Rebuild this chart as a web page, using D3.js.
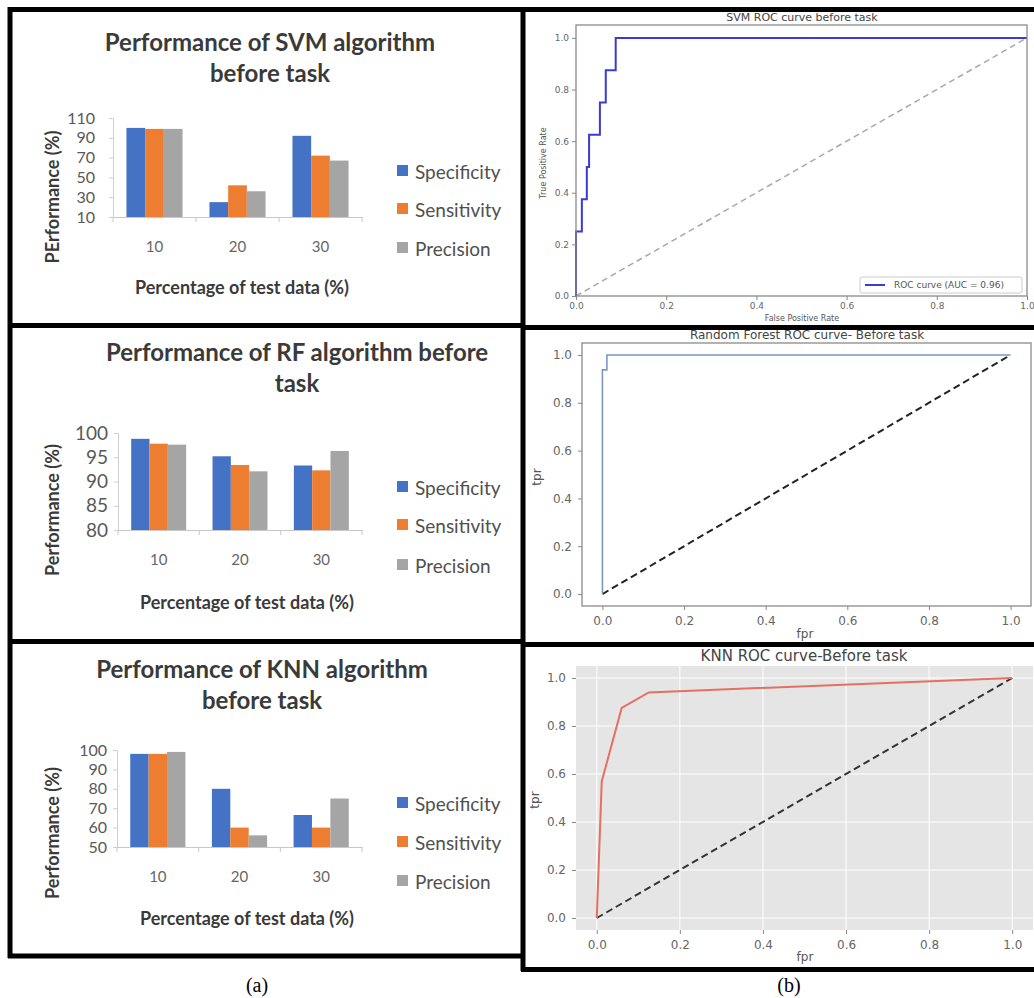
<!DOCTYPE html>
<html>
<head>
<meta charset="utf-8">
<script src="https://cdn.jsdelivr.net/npm/d3@7"></script>
<style>
  body { margin: 0; background: #fff; }
  svg { display: block; }
</style>
</head>
<body>
<svg id="fig" width="1034" height="998"></svg>
<script>
// ---- data ----
var groups = ["10", "20", "30"];
var seriesNames = ["Specificity", "Sensitivity", "Precision"];
var seriesColors = ["#4472C4", "#ED7D31", "#A5A5A5"];

var svmSpecificity = [100, 25, 92];
var svmSensitivity = [99, 42, 72];
var svmPrecision = [99, 36, 67];
var svmTicks = [10, 30, 50, 70, 90, 110];

var rfSpecificity = [98.8, 95.2, 93.3];
var rfSensitivity = [97.8, 93.4, 92.3];
var rfPrecision = [97.6, 92.1, 96.3];
var rfTicks = [80, 85, 90, 95, 100];

var knnSpecificity = [98, 80, 66.5];
var knnSensitivity = [98, 60, 60];
var knnPrecision = [99, 56, 75];
var knnTicks = [50, 60, 70, 80, 90, 100];

var rocTicks = [0, 0.2, 0.4, 0.6, 0.8, 1.0];

var svmFpr = [0, 0, 0.013, 0.013, 0.024, 0.024, 0.029, 0.029, 0.053, 0.053, 0.066, 0.066, 0.088, 0.088, 1];
var svmTpr = [0, 0.25, 0.25, 0.375, 0.375, 0.5, 0.5, 0.625, 0.625, 0.75, 0.75, 0.875, 0.875, 1, 1];
var rfFpr = [0, 0, 0.011, 0.011, 1];
var rfTpr = [0, 0.9375, 0.9375, 1, 1];
var knnFpr = [0, 0.012, 0.06, 0.125, 1];
var knnTpr = [0, 0.57, 0.875, 0.94, 1];

var svg = d3.select("#fig");
svg.append("rect").attr("width", 1034).attr("height", 998).attr("fill", "#fff");

var barFont = "Lato, 'Open Sans', sans-serif";
var mplFont = "'DejaVu Sans', sans-serif";

// ---- bar charts (left column) ----
function drawBars(cfg) {
    var g = svg.append("g");
    var rows = seriesNames.map(function (name, i) {
        return { name: name, color: seriesColors[i], values: cfg.values[i] };
    });

    var x = d3.scaleBand().domain(groups).range([cfg.left, cfg.right]);
    var xs = d3.scaleBand().domain(seriesNames).range([0, x.bandwidth()]).paddingOuter(0.72);
    var y = d3.scaleLinear().domain(d3.extent(cfg.ticks)).range([cfg.bottom, cfg.top]);

    // title
    cfg.title.forEach(function (line, i) {
        g.append("text")
            .attr("x", cfg.titleX).attr("y", cfg.titleY + i * 31)
            .attr("text-anchor", "middle")
            .style("font-family", barFont).style("font-weight", "bold")
            .style("font-size", "24px").style("fill", "#3a3a3a")
            .text(line);
    });

    // bars
    rows.forEach(function (row) {
        g.selectAll(null)
            .data(row.values)
            .enter()
            .append("rect")
            .attr("x", function (d, i) { return x(groups[i]) + xs(row.name); })
            .attr("width", xs.bandwidth())
            .attr("y", function (d) { return y(d); })
            .attr("height", function (d) { return cfg.bottom - y(d); })
            .attr("fill", row.color);
    });

    // y axis
    var yAxis = g.append("g")
        .attr("transform", "translate(" + cfg.left + ",0)")
        .call(d3.axisLeft(y).tickValues(cfg.ticks).tickSize(4).tickPadding(cfg.yPad).tickFormat(d3.format("d")));
    yAxis.selectAll("path, line").attr("stroke", "#d0d0d0");
    yAxis.selectAll("text")
        .style("font-family", barFont).style("font-size", cfg.yFont + "px").style("fill", "#595959");

    // x axis
    var xAxis = g.append("g")
        .attr("transform", "translate(0," + cfg.bottom + ")")
        .call(d3.axisBottom(x).tickSize(0).tickPadding(24));
    xAxis.select("path").attr("stroke", "#c8c8c8");
    xAxis.selectAll("text")
        .style("font-family", barFont).style("font-size", "15px").style("fill", "#666");
    var bounds = groups.map(function (d) { return x(d); }).concat([cfg.right]);
    g.selectAll(null)
        .data(bounds)
        .enter()
        .append("line")
        .attr("x1", function (d) { return d; }).attr("x2", function (d) { return d; })
        .attr("y1", cfg.bottom).attr("y2", cfg.bottom + 5)
        .attr("stroke", "#c8c8c8");

    // axis titles
    g.append("text")
        .attr("transform", "translate(52," + cfg.yTitleY + ") rotate(-90)")
        .attr("text-anchor", "middle").attr("dominant-baseline", "central")
        .style("font-family", barFont).style("font-weight", "bold")
        .style("font-size", "18px").style("fill", "#3a3a3a")
        .text(cfg.yTitle);
    g.append("text")
        .attr("x", cfg.xTitleX).attr("y", cfg.xTitleY)
        .attr("text-anchor", "middle").attr("dominant-baseline", "central")
        .style("font-family", barFont).style("font-weight", "bold")
        .style("font-size", "18px").style("fill", "#3a3a3a")
        .text("Percentage of test data (%)");

    // legend
    var leg = g.selectAll(null)
        .data(rows)
        .enter()
        .append("g")
        .attr("transform", function (d, i) { return "translate(397," + cfg.legendY[i] + ")"; });
    leg.append("rect")
        .attr("x", 0).attr("y", -6).attr("width", 11).attr("height", 11)
        .attr("fill", function (d) { return d.color; });
    leg.append("text")
        .attr("x", 18).attr("y", 0).attr("dominant-baseline", "central")
        .style("font-family", barFont).style("font-size", "19px").style("fill", "#505050")
        .text(function (d) { return d.name; });
}

drawBars({
    title: ["Performance of SVM algorithm", "before task"],
    titleX: 270, titleY: 51,
    values: [svmSpecificity, svmSensitivity, svmPrecision],
    ticks: svmTicks, yFont: 16, yPad: 14,
    left: 113, right: 362, top: 118, bottom: 217,
    yTitle: "PErformance (%)", yTitleY: 197,
    xTitleX: 242, xTitleY: 287,
    legendY: [171, 209, 248]
});

drawBars({
    title: ["Performance of RF algorithm before", "task"],
    titleX: 297, titleY: 361,
    values: [rfSpecificity, rfSensitivity, rfPrecision],
    ticks: rfTicks, yFont: 19, yPad: 6,
    left: 118, right: 362, top: 433, bottom: 530,
    yTitle: "Performance (%)", yTitleY: 510,
    xTitleX: 247, xTitleY: 602,
    legendY: [487, 525, 565]
});

drawBars({
    title: ["Performance of KNN algorithm", "before task"],
    titleX: 262, titleY: 678,
    values: [knnSpecificity, knnSensitivity, knnPrecision],
    ticks: knnTicks, yFont: 16, yPad: 6,
    left: 117, right: 362, top: 750, bottom: 847,
    yTitle: "Performance (%)", yTitleY: 833,
    xTitleX: 247, xTitleY: 918,
    legendY: [803, 842, 881]
});

// ---- ROC charts (right column) ----
function drawRoc(cfg) {
    var g = svg.append("g");
    var x = d3.scaleLinear().domain(cfg.xDomain).range([cfg.left, cfg.right]);
    var y = d3.scaleLinear().domain(cfg.yDomain).range([cfg.bottom, cfg.top]);

    if (cfg.panelFill) {
        g.append("rect")
            .attr("x", cfg.left).attr("y", cfg.top)
            .attr("width", cfg.right - cfg.left).attr("height", cfg.bottom - cfg.top)
            .attr("fill", cfg.panelFill);
        g.selectAll(null).data(rocTicks).enter().append("line")
            .attr("x1", function (d) { return x(d); }).attr("x2", function (d) { return x(d); })
            .attr("y1", cfg.top).attr("y2", cfg.bottom)
            .attr("stroke", "#fff").attr("stroke-width", 1);
        g.selectAll(null).data(rocTicks).enter().append("line")
            .attr("y1", function (d) { return y(d); }).attr("y2", function (d) { return y(d); })
            .attr("x1", cfg.left).attr("x2", cfg.right)
            .attr("stroke", "#fff").attr("stroke-width", 1);
    }

    var line = d3.line()
        .x(function (d) { return x(d[0]); })
        .y(function (d) { return y(d[1]); });

    // chance diagonal
    g.append("path")
        .attr("d", line([[0, 0], [1, 1]]))
        .attr("fill", "none")
        .attr("stroke", cfg.diagColor).attr("stroke-width", cfg.diagWidth)
        .attr("stroke-dasharray", cfg.diagDash);

    // roc curve
    g.append("path")
        .attr("d", line(d3.zip(cfg.fpr, cfg.tpr)))
        .attr("fill", "none")
        .attr("stroke", cfg.color).attr("stroke-width", cfg.width)
        .attr("stroke-linejoin", "miter");

    if (cfg.spine) {
        g.append("rect")
            .attr("x", cfg.left).attr("y", cfg.top)
            .attr("width", cfg.right - cfg.left).attr("height", cfg.bottom - cfg.top)
            .attr("fill", "none").attr("stroke", cfg.spine).attr("stroke-width", 1.3);
    }

    var xAxis = g.append("g")
        .attr("transform", "translate(0," + cfg.bottom + ")")
        .call(d3.axisBottom(x).tickValues(rocTicks).tickSize(4).tickPadding(cfg.tickPad).tickFormat(d3.format(".1f")));
    var yAxis = g.append("g")
        .attr("transform", "translate(" + cfg.left + ",0)")
        .call(d3.axisLeft(y).tickValues(rocTicks).tickSize(4).tickPadding(cfg.tickPad).tickFormat(d3.format(".1f")));
    [xAxis, yAxis].forEach(function (a) {
        a.select(".domain").remove();
        a.selectAll("line").attr("stroke", "#888");
        a.selectAll("text")
            .style("font-family", mplFont).style("font-size", cfg.tickFont + "px").style("fill", "#666");
    });

    g.append("text")
        .attr("x", cfg.titleX).attr("y", cfg.titleY)
        .attr("text-anchor", "middle").attr("dominant-baseline", "central")
        .style("font-family", mplFont).style("font-size", cfg.titleFont + "px").style("fill", "#444")
        .text(cfg.title);
    g.append("text")
        .attr("x", cfg.xLabelX).attr("y", cfg.xLabelY)
        .attr("text-anchor", "middle").attr("dominant-baseline", "central")
        .style("font-family", mplFont).style("font-size", cfg.labelFont + "px").style("fill", "#555")
        .text(cfg.xLabel);
    g.append("text")
        .attr("transform", "translate(" + cfg.yLabelX + "," + cfg.yLabelY + ") rotate(-90)")
        .attr("text-anchor", "middle").attr("dominant-baseline", "central")
        .style("font-family", mplFont).style("font-size", cfg.labelFont + "px").style("fill", "#555")
        .text(cfg.yLabel);

    if (cfg.legend) {
        var lg = g.append("g").attr("transform", "translate(860,277)");
        lg.append("rect").attr("width", 162).attr("height", 16).attr("rx", 2)
            .attr("fill", "#fff").attr("stroke", "#ccc");
        lg.append("line").attr("x1", 5).attr("x2", 25).attr("y1", 8).attr("y2", 8)
            .attr("stroke", cfg.color).attr("stroke-width", 2);
        lg.append("text").attr("x", 34).attr("y", 8).attr("dominant-baseline", "central")
            .style("font-family", mplFont).style("font-size", "9px").style("fill", "#555")
            .text(cfg.legend);
    }
}

drawRoc({
    fpr: svmFpr, tpr: svmTpr, color: "#3a3ad6", width: 2,
    diagColor: "#a8a8a8", diagWidth: 1.5, diagDash: "6,4",
    xDomain: [0, 1], yDomain: [0, 1.05],
    left: 576, right: 1027, top: 25, bottom: 296,
    spine: "#8a8a8a", tickFont: 9, tickPad: 3,
    title: "SVM ROC curve before task", titleX: 802, titleY: 17, titleFont: 11,
    xLabel: "False Positive Rate", xLabelX: 802, xLabelY: 318,
    yLabel: "True Positive Rate", yLabelX: 543, yLabelY: 163, labelFont: 8,
    legend: "ROC curve (AUC = 0.96)"
});

drawRoc({
    fpr: rfFpr, tpr: rfTpr, color: "#7b97c4", width: 1.6,
    diagColor: "#222", diagWidth: 2, diagDash: "7,4",
    xDomain: [-0.05, 1.05], yDomain: [-0.05, 1.05],
    left: 582, right: 1031, top: 343, bottom: 606,
    spine: "#8a8a8a", tickFont: 12, tickPad: 6,
    title: "Random Forest ROC curve- Before task", titleX: 807, titleY: 335, titleFont: 12,
    xLabel: "fpr", xLabelX: 805, xLabelY: 634,
    yLabel: "tpr", yLabelX: 537, yLabelY: 477, labelFont: 12
});

drawRoc({
    fpr: knnFpr, tpr: knnTpr, color: "#e5705f", width: 2,
    diagColor: "#333", diagWidth: 2, diagDash: "7,4",
    xDomain: [-0.05, 1.05], yDomain: [-0.05, 1.05],
    left: 576, right: 1033, top: 666, bottom: 930,
    panelFill: "#e5e5e5", tickFont: 12, tickPad: 6,
    title: "KNN ROC curve-Before task", titleX: 804, titleY: 656, titleFont: 15,
    xLabel: "fpr", xLabelX: 805, xLabelY: 957,
    yLabel: "tpr", yLabelX: 535, yLabelY: 800, labelFont: 12
});

// ---- panel frames ----
var frameLines = [
    [8, 9.5, 1034, 9.5],
    [10, 7, 10, 958],
    [523, 7, 523, 971],
    [8, 325.5, 523, 325.5],
    [523, 327.5, 1034, 327.5],
    [8, 641.5, 523, 641.5],
    [523, 644.5, 1034, 644.5],
    [8, 956, 523, 956],
    [521, 969.5, 1034, 969.5]
];
svg.append("g").selectAll("line")
    .data(frameLines)
    .enter()
    .append("line")
    .attr("x1", function (d) { return d[0]; }).attr("y1", function (d) { return d[1]; })
    .attr("x2", function (d) { return d[2]; }).attr("y2", function (d) { return d[3]; })
    .attr("stroke", "#000").attr("stroke-width", 5);

// sub-figure captions
svg.selectAll(null)
    .data([["(a)", 257], ["(b)", 789]])
    .enter()
    .append("text")
    .attr("x", function (d) { return d[1]; }).attr("y", 985)
    .attr("text-anchor", "middle").attr("dominant-baseline", "central")
    .style("font-family", "'Liberation Serif', 'Times New Roman', serif").style("font-size", "20px")
    .style("fill", "#000")
    .text(function (d) { return d[0]; });
</script>
</body>
</html>
